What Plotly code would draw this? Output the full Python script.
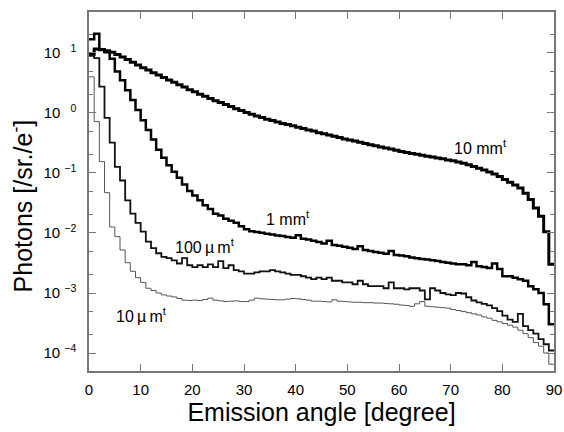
import numpy as np
import plotly.graph_objects as go

# Emission angle bin edges (1 degree bins, 0..90)
angle_edges = np.arange(0, 91)

# Photons [/sr./e-] per 1-degree bin
t10mm = [9.5, 11.6, 11.4, 10.9, 10.3, 9.4, 8.6, 7.8, 7.0, 6.3,
         5.7, 5.2, 4.7, 4.3, 3.9, 3.55, 3.25, 2.95, 2.7, 2.45,
         2.25, 2.05, 1.9, 1.75, 1.6, 1.5, 1.38, 1.28, 1.18, 1.1,
         1.02, 0.95, 0.89, 0.84, 0.79, 0.75, 0.71, 0.67, 0.64, 0.61,
         0.58, 0.55, 0.52, 0.50, 0.47, 0.45, 0.43, 0.41, 0.39, 0.37,
         0.355, 0.34, 0.325, 0.31, 0.295, 0.285, 0.272, 0.26, 0.25, 0.24,
         0.228, 0.22, 0.212, 0.205, 0.197, 0.19, 0.184, 0.178, 0.172, 0.165,
         0.16, 0.152, 0.145, 0.137, 0.128, 0.12, 0.112, 0.104, 0.096, 0.087,
         0.078, 0.07, 0.063, 0.056, 0.046, 0.036, 0.026, 0.019, 0.0105, 0.003]

t1mm = [17, 21, 11.2, 10.3, 8.0, 4.9, 3.5, 2.4, 1.65, 1.12,
        0.76, 0.52, 0.36, 0.245, 0.18, 0.135, 0.105, 0.083, 0.064, 0.05,
        0.042, 0.035, 0.029, 0.025, 0.021, 0.0195, 0.0172, 0.016, 0.0148, 0.013,
        0.0115, 0.0107, 0.0104, 0.0101, 0.0097, 0.0094, 0.0091, 0.0089, 0.0086, 0.0083,
        0.0092, 0.008, 0.0078, 0.0074, 0.0071, 0.0067, 0.0074, 0.0063, 0.0061, 0.0059,
        0.0057, 0.0054, 0.006, 0.0052, 0.005, 0.0048, 0.0047, 0.0045, 0.005, 0.0043,
        0.0042, 0.0041, 0.0039, 0.0038, 0.0037, 0.0036, 0.0035, 0.0034, 0.0033, 0.0032,
        0.0031, 0.003, 0.003, 0.0029, 0.0033, 0.0028, 0.0027, 0.0026, 0.0031, 0.0025,
        0.0019, 0.0019, 0.0018, 0.0017, 0.0016, 0.0013, 0.00115, 0.001, 0.00065, 0.0003]

t100um = [9.0, 8.2, 2.75, 0.83, 0.32, 0.126, 0.075, 0.035, 0.021, 0.0147,
          0.0105, 0.0072, 0.0056, 0.0046, 0.004, 0.0038, 0.0035, 0.0031, 0.0038, 0.0029,
          0.0027, 0.0029, 0.0027, 0.003, 0.0027, 0.0034, 0.0026, 0.0029, 0.0024, 0.0023,
          0.0021, 0.0021, 0.0022, 0.0023, 0.0023, 0.0024, 0.0023, 0.0022, 0.0021, 0.002,
          0.002, 0.0019, 0.0018, 0.0017, 0.0018, 0.0017, 0.0018, 0.0016, 0.0016, 0.0015,
          0.0015, 0.0014, 0.0016, 0.0014, 0.0013, 0.0013, 0.0013, 0.0012, 0.0015, 0.0012,
          0.0012, 0.00115, 0.0012, 0.0012, 0.0011, 0.00078, 0.0012, 0.0011, 0.001, 0.00095,
          0.00092, 0.001, 0.00098, 0.00085, 0.00075, 0.0007, 0.00066, 0.00062, 0.00056, 0.0005,
          0.00042, 0.00036, 0.00033, 0.00045, 0.00028, 0.00024, 0.00021, 0.00017, 0.00014, 0.00011]

t10um = [4.0, 0.72, 0.155, 0.047, 0.0126, 0.0087, 0.0052, 0.0032, 0.0023, 0.0018,
         0.0015, 0.0012, 0.0011, 0.001, 0.00093, 0.00089, 0.00086, 0.00081, 0.00076, 0.00075,
         0.00076, 0.00075, 0.00078, 0.00082, 0.00076, 0.00074, 0.00072, 0.00073, 0.00074, 0.00072,
         0.00072, 0.00076, 0.00082, 0.0008, 0.00079, 0.00078, 0.00077, 0.00077, 0.00079, 0.00081,
         0.0008, 0.00078, 0.00076, 0.00073, 0.00073, 0.00072, 0.00071, 0.00077, 0.00073, 0.00072,
         0.00071, 0.0007, 0.0007, 0.00069, 0.00069, 0.00068, 0.00068, 0.00067, 0.00066, 0.00065,
         0.00063, 0.00062, 0.0006, 0.00066, 0.00072, 0.0006, 0.00059, 0.00058, 0.00057, 0.00056,
         0.00053, 0.00051, 0.00049, 0.00047, 0.00045, 0.00043, 0.0004, 0.00038, 0.00035, 0.00033,
         0.00031, 0.00029, 0.00027, 0.00024, 0.00021, 0.00018, 0.00015, 0.00013, 0.0001, 0.000065]

series_labels = ["10 mm<sup>t</sup>", "1 mm<sup>t</sup>",
                 "100\u2009\u00b5\u2009m<sup>t</sup>", "10\u2009\u00b5\u2009m<sup>t</sup>"]

x_tick_vals = list(range(0, 91, 10))
y_tick_vals = [1e-4, 1e-3, 1e-2, 1e-1, 1, 10]
y_tick_exps = ["\u22124", "\u22123", "\u22122", "\u22121", "\u20070", "\u20071"]
y_tick_text = ["10 <sup>%s</sup>" % e for e in y_tick_exps]
y_minor_vals = [m * 10.0 ** d for d in range(-5, 2) for m in (2, 5)]

FONT = "Liberation Sans, Arial, sans-serif"
AXC = "#777777"


def step(vals):
    return list(vals) + [vals[-1]]


fig = go.Figure()
styles = [(3.0, "#000000"), (2.5, "#000000"), (1.8, "#111111"), (1.0, "#555555")]
for vals, (w, c) in zip([t10mm, t1mm, t100um, t10um], styles):
    fig.add_trace(go.Scatter(x=angle_edges, y=step(vals), mode="lines",
                             line=dict(shape="hv", width=w, color=c),
                             showlegend=False, hoverinfo="skip"))

label_pos = [(75.7, -0.57), (38.5, -1.75), (22.5, -2.22), (10.1, -3.36)]
for txt, (lx, ly) in zip(series_labels, label_pos):
    fig.add_annotation(x=lx, y=ly, xref="x", yref="y", text=txt, showarrow=False,
                       font=dict(family=FONT, size=16, color="#000"))

# y-axis title as an annotation (slightly below the plot's mid-height, as in the original)
fig.add_annotation(x=-0.145, y=0.46, xref="paper", yref="paper",
                   text="Photons [/sr./e<sup>-</sup>]", textangle=-90, showarrow=False,
                   xanchor="center", yanchor="middle",
                   font=dict(family=FONT, size=25, color="#000"))

fig.update_layout(
    width=564, height=432,
    margin=dict(l=89, r=10, t=12, b=61),
    paper_bgcolor="white", plot_bgcolor="white",
    font=dict(family=FONT, color="#000"),
)
fig.update_xaxes(
    range=[0, 90], tickvals=x_tick_vals, ticks="inside", ticklen=7, tickwidth=1,
    tickcolor=AXC, showline=True, linecolor=AXC, linewidth=1.5, mirror="ticks",
    showgrid=False, zeroline=False, tickfont=dict(family=FONT, size=15),
    ticklabelstandoff=4, automargin=False,
    title=dict(text="Emission angle [degree]", font=dict(family=FONT, size=25), standoff=3),
)
fig.update_yaxes(
    type="log", range=[-4.3, 1.683], tickvals=y_tick_vals, ticktext=y_tick_text,
    ticks="inside", ticklen=7, tickwidth=1, tickcolor=AXC,
    minor=dict(tickvals=y_minor_vals, ticks="inside", ticklen=4, tickcolor=AXC),
    showline=True, linecolor=AXC, linewidth=1.5, mirror="ticks",
    showgrid=False, zeroline=False, tickfont=dict(family=FONT, size=15),
    ticklabelstandoff=8, automargin=False,
)

fig.write_html("out.html", config={"displayModeBar": False},
               post_script="document.body.style.margin='0';document.body.style.padding='0';")
